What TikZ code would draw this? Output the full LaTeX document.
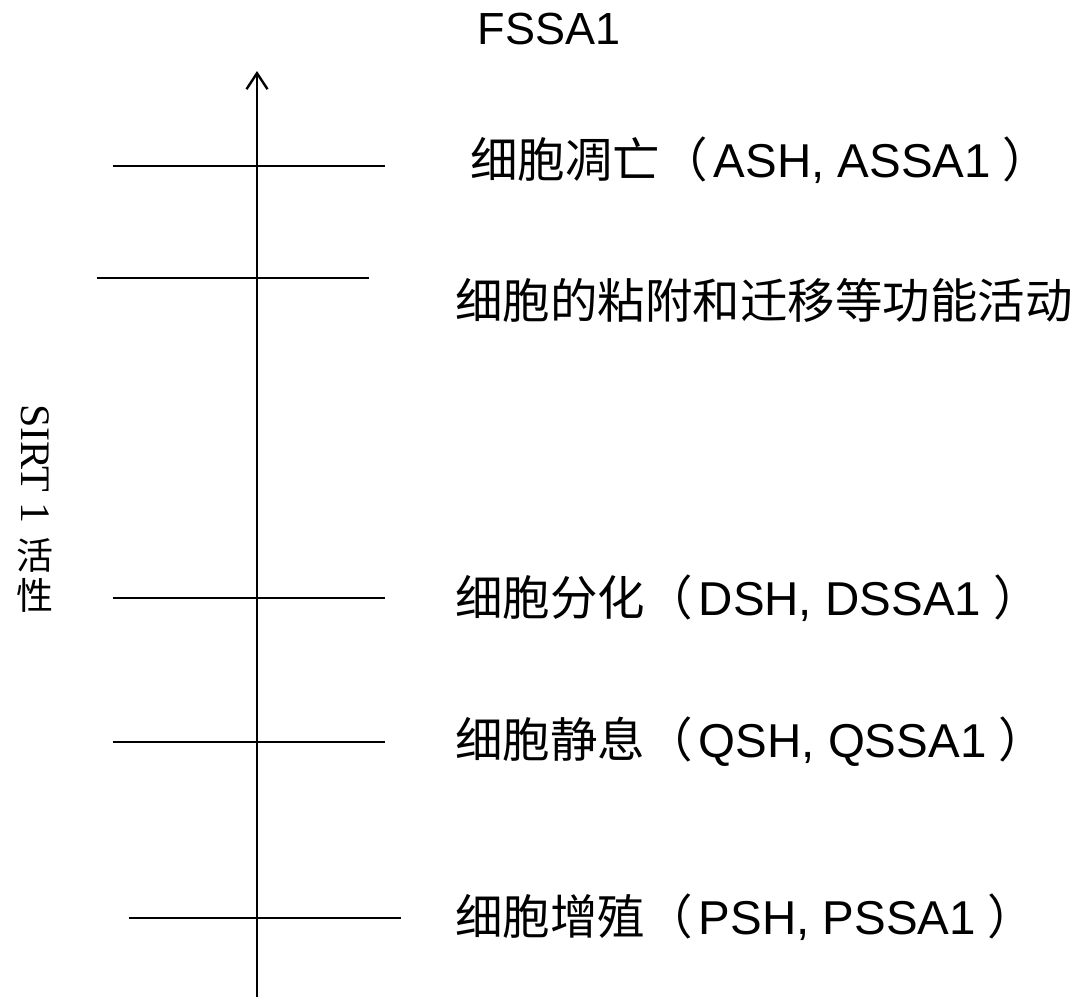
\documentclass[tikz,border=0pt]{standalone}
\usepackage{fontspec}
\setmainfont{Liberation Sans}
\newfontfamily\cjk{Noto Sans CJK SC}
\newfontfamily\tms{Liberation Serif}
\usetikzlibrary{arrows.meta}
\newcommand{\lp}{{\cjk （}\hspace{6pt}}
\newcommand{\rp}{\hspace{12pt}{\cjk ）}}
\begin{document}
\begin{tikzpicture}[x=1pt,y=-1pt,
  tick/.style={line width=2.4pt},
  lbl/.style={anchor=west,inner sep=0pt,font=\fontsize{47.5}{52}\selectfont},
  side/.style={inner sep=0pt}]
\useasboundingbox (0,0) rectangle (1078,997);
% axis
\coordinate (ax0) at (257,997);
\coordinate (ax1) at (257,71);
\draw[line width=2.4pt,-{Straight Barb[length=16pt,width=21pt,line width=2.4pt]}] (ax0) -- (ax1);
\node[side,font=\fontsize{45}{50}\selectfont] (title) at (549,29) {FSSA1};
% ticks
\coordinate (t1a) at (113,166); \coordinate (t1b) at (385,166);
\coordinate (t2a) at (97,278);  \coordinate (t2b) at (369,278);
\coordinate (t3a) at (113,598); \coordinate (t3b) at (385,598);
\coordinate (t4a) at (113,742); \coordinate (t4b) at (385,742);
\coordinate (t5a) at (129,918); \coordinate (t5b) at (401,918);
\draw[tick] (t1a) -- (t1b);
\draw[tick] (t2a) -- (t2b);
\draw[tick] (t3a) -- (t3b);
\draw[tick] (t4a) -- (t4b);
\draw[tick] (t5a) -- (t5b);
% labels
\node[lbl] (l1) at (470,160) {{\cjk 细胞凋亡}\lp ASH, ASSA1\rp};
\node[lbl] (l2) at (455,300) {\cjk 细胞的粘附和迁移等功能活动};
\node[lbl] (l3) at (455,598) {{\cjk 细胞分化}\lp DSH, DSSA1\rp};
\node[lbl] (l4) at (455,742) {{\cjk 细胞静息}\lp QSH, QSSA1\rp};
\node[lbl] (l5) at (455,917) {{\cjk 细胞增殖}\lp PSH, PSSA1\rp};
% side label
\node[side,rotate=-90,font=\tms\fontsize{42}{46}\selectfont] (s1) at (35,464) {SIRT 1};
\node[side,font=\cjk\fontsize{37}{40}\selectfont] (s2) at (35,555) {活};
\node[side,font=\cjk\fontsize{37}{40}\selectfont] (s3) at (35,595) {性};
\end{tikzpicture}
\end{document}
